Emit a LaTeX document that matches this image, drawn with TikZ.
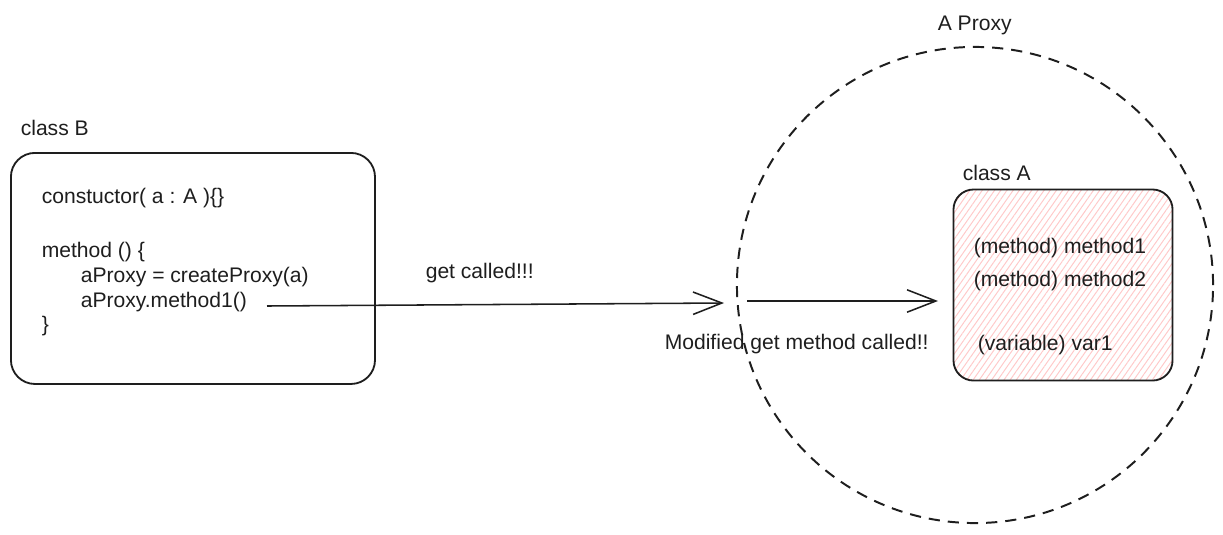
\documentclass[tikz,border=0pt]{standalone}
\usepackage{fontspec}
\setmainfont{Liberation Sans}
\usetikzlibrary{arrows.meta,patterns.meta}
\definecolor{strich}{HTML}{1e1e1e}
\definecolor{schraffur}{HTML}{ffc9c9}

\begin{document}
\begin{tikzpicture}[
		x=0.025cm, y=-0.025cm,		% ein Pixel der Vorlage
		>={Straight Barb[length=7.2mm,width=5.6mm]},	% offene Pfeilspitzen
		line width=1.1pt,			% Standardstrichstaerke
		font=\fontsize{15}{18}\selectfont,	% Schriftgroesse
		text=strich,
		txt/.style={anchor=base west, inner sep=0pt},
		klasse/.style={draw=strich, rectangle, anchor=north west, line width=1.3pt}
	]
	\useasboundingbox (0,0) rectangle (1223,534);

	% Proxy-Kreis
	\node[draw=strich, circle, minimum size=11.9cm, line width=1.4pt, dash pattern=on 0.28cm off 0.2cm] (proxy) at (975,285) {};
	\node[txt] (proxylabel) at (937,30) {A Proxy};

	% Klasse B
	\node[klasse, rounded corners=0.6cm, minimum width=9.1cm, minimum height=5.775cm] (classB) at (10,152) {};
	\node[txt] (classBlabel) at (20,135) {class B};
	\node[txt] (ctor) at (41,203) {constuctor( a : A )\{\}};
	\node[txt] (method) at (41,257) {method () \{};
	\node[txt] (create) at (80,282) {aProxy = createProxy(a)};
	\node[txt] (call) at (80,307) {aProxy.method1()};
	\node[txt] (close) at (41,331) {\}};

	% Klasse A
	\node[klasse, rounded corners=0.5cm, minimum width=5.475cm, minimum height=4.775cm,
		pattern={Lines[angle=55,distance=3.6pt,line width=0.7pt]}, pattern color=schraffur] (classA) at (953,189) {};
	\node[txt] (classAlabel) at (962,180) {class A};
	\node[txt] (method1) at (973,253) {(method) method1};
	\node[txt] (method2) at (973,286) {(method) method2};
	\node[txt] (var1) at (977,350) {(variable) var1};

	% Pfeil 1: Aufruf an den Proxy
	\coordinate (callstart) at (267,306);
	\coordinate (callend) at (724,303);
	\draw[->, strich] (callstart) -- (callend);
	\node[txt] (called) at (425,278) {get called!!!};

	% Pfeil 2: weiter an Klasse A
	\coordinate (getstart) at (747,301);
	\coordinate (getend) at (938,301);
	\draw[->, strich] (getstart) -- (getend);
	\node[txt] (modified) at (664,349) {Modified get method called!!};

\end{tikzpicture}
\end{document}
